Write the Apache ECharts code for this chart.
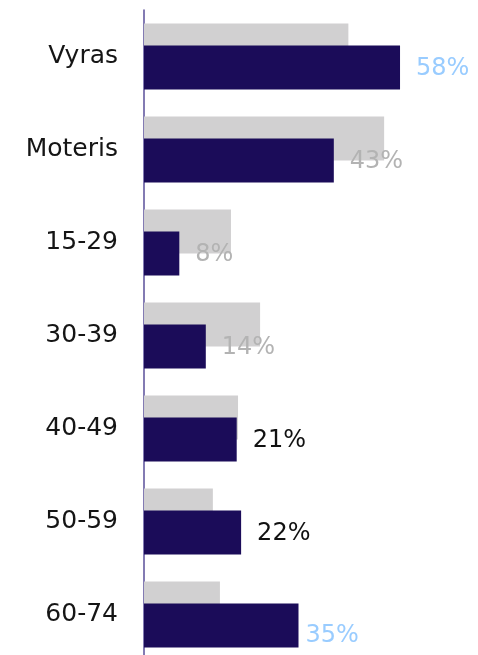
<!DOCTYPE html>
<html><head><meta charset="utf-8">
<script src="https://cdn.jsdelivr.net/npm/echarts@6/dist/echarts.min.js"></script>
<style>html,body{margin:0;padding:0;background:#fff;overflow:hidden}#c{width:478px;height:672px}</style>
</head><body><div id="c"></div>
<script>
const categories = ['Vyras', 'Moteris', '15-29', '30-39', '40-49', '50-59', '60-74'];
const greyValues = [46.3, 54.4, 19.7, 26.3, 21.3, 15.6, 17.2];
const navyValues = [58, 43, 8, 14, 21, 22, 35];
const labelColors = ['#99ccff', '#b3b3b3', '#b3b3b3', '#b3b3b3', '#111111', '#111111', '#99ccff'];

const chart = echarts.init(document.getElementById('c'), null, {renderer: 'canvas'});
chart.setOption({
  animation: false,
  grid: {left: 144, top: 10, width: 309, height: 651},
  xAxis: {type: 'value', min: 0, max: 70, show: false},
  yAxis: {
    type: 'category', data: categories, inverse: true,
    axisLine: {show: true, lineStyle: {color: '#5a4f9a', width: 1.5}},
    axisTick: {show: false},
    axisLabel: {fontFamily: 'DejaVu Sans', fontSize: 25, color: '#151515', margin: 26}
  },
  series: [
    {type: 'bar', data: greyValues, barWidth: 44, barGap: '-50%',
     itemStyle: {color: '#d1d0d1'}, silent: true},
    {type: 'bar', data: navyValues.map((v, i) => ({
        value: v,
        label: {color: labelColors[i], offset: i === 6 ? [-9, 10] : [0, 1]}
      })), barWidth: 44,
     itemStyle: {color: '#1b0c59'},
     label: {show: true, position: 'right', distance: 16, fontFamily: 'DejaVu Sans', fontSize: 24,
             formatter: p => p.value + '%'}}
  ]
});
</script></body></html>
